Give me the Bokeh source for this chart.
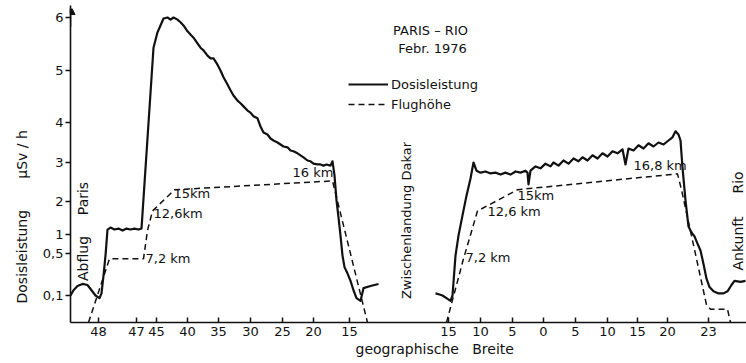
import numpy as np
from bokeh.plotting import figure
from bokeh.models import (Range1d, FixedTicker, Label, Legend, LegendItem,
                          Arrow, NormalHead, Title)
from bokeh.embed import file_html
from bokeh.resources import INLINE

# ---- non-linear dose scale of the original figure (value -> scale position)
Y_TICK_VALUES = [0.1, 0.5, 1, 2, 3, 4, 5, 6]
Y_TICK_LABELS = ["0,1", "0,5", "1", "2", "3", "4", "5", "6"]
Y_SCALE_POS = [27, 69, 88, 121, 160, 200, 252, 305]

# ---- flight track axis (geographic latitude labels along the route)
X_TICK_POS = [98, 136, 156, 187, 218, 250, 282, 313, 349,
              448, 480, 512, 543, 575, 607, 637, 667, 708]
X_TICK_LABELS = ["48", "47", "45", "40", "35", "30", "25", "20", "15",
                 "15", "10", "5", "0", "5", "10", "15", "20", "23"]

# ---- Dosisleistung (µSv/h), leg Paris -> Dakar
dose1_x = [70, 73, 77, 82, 87, 91, 95, 99, 101, 103, 105, 107, 110, 114, 118,
           122, 126, 130, 134, 138, 141, 153, 157, 160, 163, 167, 170, 173,
           177, 180, 183, 187, 190, 193, 197, 200, 203, 207, 210, 213, 217,
           220, 223, 227, 230, 233, 237, 240, 243, 247, 250, 253, 257, 260,
           263, 267, 270, 273, 277, 280, 283, 287, 290, 293, 297, 300, 303,
           307, 310, 313, 317, 320, 323, 326, 330, 332, 334, 336, 338, 340,
           342, 344, 347, 350, 353, 356, 360, 363, 370, 378]
dose1_v = [0.10, 0.15, 0.19, 0.21, 0.20, 0.15, 0.10, 0.09, 0.12, 0.29, 0.48,
           1.15, 1.21, 1.15, 1.18, 1.12, 1.18, 1.15, 1.18, 1.15, 1.18, 5.43,
           5.72, 5.85, 5.98, 6.0, 5.96, 6.0, 5.96, 5.91, 5.85, 5.74, 5.68,
           5.62, 5.51, 5.43, 5.38, 5.28, 5.23, 5.23, 5.11, 5.0, 4.87, 4.73,
           4.62, 4.52, 4.42, 4.37, 4.31, 4.23, 4.19, 4.12, 4.08, 3.9, 3.75,
           3.7, 3.6, 3.55, 3.5, 3.45, 3.4, 3.38, 3.3, 3.28, 3.23, 3.18, 3.13,
           3.05, 3.03, 2.97, 2.95, 2.95, 2.92, 2.95, 2.92, 3.03, 2.67, 2.03,
           1.52, 0.97, 0.48, 0.37, 0.31, 0.24, 0.15, 0.09, 0.08, 0.17, 0.19,
           0.21]

# ---- Dosisleistung (µSv/h), leg Dakar -> Rio
dose2_x = [435, 439, 442, 446, 450, 452, 455, 458, 462, 466, 470, 473, 476,
           480, 485, 490, 495, 500, 505, 510, 515, 520, 525, 527, 528, 530,
           535, 540, 545, 550, 553, 558, 563, 568, 573, 578, 582, 587, 592,
           597, 602, 607, 612, 617, 622, 625, 628, 633, 638, 643, 648, 653,
           658, 663, 668, 672, 675, 678, 680, 682, 685, 688, 691, 694, 697,
           700, 703, 706, 709, 713, 718, 723, 727, 731, 734, 740, 745]
dose2_v = [0.12, 0.11, 0.10, 0.09, 0.08, 0.10, 0.48, 0.97, 1.58, 2.15, 2.59,
           3.0, 2.79, 2.74, 2.77, 2.72, 2.74, 2.69, 2.74, 2.69, 2.77, 2.74,
           2.79, 2.74, 2.44, 2.79, 2.9, 2.85, 2.97, 2.9, 3.0, 2.92, 3.05,
           2.97, 3.1, 3.03, 3.13, 3.05, 3.18, 3.1, 3.23, 3.15, 3.28, 3.23,
           3.33, 2.95, 3.35, 3.3, 3.43, 3.35, 3.48, 3.4, 3.5, 3.45, 3.55,
           3.63, 3.78, 3.7, 3.55, 2.87, 2.03, 1.24, 1.06, 0.95, 0.76, 0.58,
           0.40, 0.26, 0.18, 0.14, 0.12, 0.12, 0.14, 0.20, 0.24, 0.23, 0.24]

# ---- Flughöhe (km)
alt1_x = [88, 109, 143, 147, 152, 174, 332, 367]
alt1_km = [0, 7.2, 7.2, 10.4, 12.6, 15.0, 16.0, 0]
alt2_x = [446, 463, 477, 517, 677, 681, 706, 710, 727, 730]
alt2_km = [0, 7.2, 12.6, 15.0, 16.8, 15.0, 2.0, 1.5, 1.5, 0]

ALT_UNITS_PER_KM = 8.85
Y_TOP = 314


def gauge(v):
    return np.interp(np.asarray(v, dtype=float), [0] + Y_TICK_VALUES,
                     [0] + Y_SCALE_POS)


FONT = "DejaVu Sans"
INK = "#111111"
NB = "\u00a0"

p = figure(width=746, height=363, title=None,
           x_range=Range1d(70, 746), y_range=Range1d(0, Y_TOP),
           output_backend="svg", toolbar_location=None,
           min_border_left=70, min_border_right=0, min_border_top=8,
           min_border_bottom=41)
p.extra_y_ranges = {"alt": Range1d(0, Y_TOP / ALT_UNITS_PER_KM)}
p.outline_line_color = None
p.xgrid.visible = False
p.ygrid.visible = False
p.background_fill_color = "white"
p.border_fill_color = "white"

# axes
yax = p.yaxis[0]
yax.ticker = FixedTicker(ticks=Y_SCALE_POS)
yax.major_label_overrides = {t: l for t, l in zip(Y_SCALE_POS, Y_TICK_LABELS)}
yax.minor_tick_line_color = None
yax.major_tick_in = 0
yax.major_tick_out = 5
yax.major_label_standoff = 2
yax.axis_line_width = 1.6
yax.axis_line_color = INK
yax.major_tick_line_width = 1.5
yax.major_tick_line_color = INK
yax.major_label_text_font = FONT
yax.major_label_text_font_size = "13px"
yax.major_label_text_color = INK

xax = p.xaxis[0]
xax.ticker = FixedTicker(ticks=X_TICK_POS)
xax.major_label_overrides = {t: l for t, l in zip(X_TICK_POS, X_TICK_LABELS)}
xax.minor_tick_line_color = None
xax.major_tick_in = 5
xax.major_tick_out = 0
xax.major_label_standoff = 4
xax.axis_line_width = 1.6
xax.axis_line_color = INK
xax.major_tick_line_width = 1.5
xax.major_tick_line_color = INK
xax.major_label_text_font = FONT
xax.major_label_text_font_size = "13px"
xax.major_label_text_color = INK

# axis titles as side titles (placed with offsets along the axes)
p.add_layout(Title(text="Dosisleistung" + NB * 7 + "µSv" + NB + "/" + NB + "h",
                   align="left", offset=19, standoff=20,
                   text_font=FONT, text_font_size="14px",
                   text_font_style="normal", text_color=INK), "left")
p.add_layout(Title(text="geographische" + NB * 3 + "Breite",
                   align="left", offset=285, standoff=0,
                   text_font=FONT, text_font_size="14px",
                   text_font_style="normal", text_color=INK), "below")

p.add_layout(Arrow(end=NormalHead(size=9, fill_color=INK, line_color=INK),
                   x_start=70, y_start=296, x_end=70, y_end=Y_TOP + 3,
                   line_width=1.6, line_color=INK))

# data
r_d1 = p.line(dose1_x, gauge(dose1_v), line_width=2.2, line_color=INK,
              line_join="round")
p.line(dose2_x, gauge(dose2_v), line_width=2.2, line_color=INK,
       line_join="round")
r_a1 = p.line(alt1_x, alt1_km, y_range_name="alt", line_width=1.5,
              line_color=INK, line_dash="6 4")
p.line(alt2_x, alt2_km, y_range_name="alt", line_width=1.5,
       line_color=INK, line_dash="6 4")

legend = Legend(items=[LegendItem(label="Dosisleistung", renderers=[r_d1]),
                       LegendItem(label="Flughöhe", renderers=[r_a1])],
                location=(278, 209), border_line_color=None,
                background_fill_alpha=0, padding=0, margin=0, spacing=2,
                glyph_width=40, glyph_height=18, label_height=18,
                label_standoff=3, label_text_font=FONT,
                label_text_font_size="13px", label_text_color=INK)
p.add_layout(legend, "center")


def txt(x, y, s, size="13px", angle=0.0, align="center"):
    p.add_layout(Label(x=x, y=y, text=s, angle=angle, text_align=align,
                       text_baseline="middle", text_font=FONT,
                       text_font_size=size, text_color=INK))


# titles
txt(430, 292, "PARIS – RIO")
txt(432, 274, "Febr. 1976")

# altitude labels
for s, x, y in [("7,2 km", 145, 64), ("12,6km", 153, 109), ("15km", 173, 129),
                ("16 km", 292, 150), ("7,2 km", 465, 65), ("12,6 km", 487, 111),
                ("15km", 517, 127), ("16,8 km", 633, 157)]:
    txt(x, y, s, align="left")

# vertical annotations
V = np.pi / 2
txt(82, 64, "Abflug", size="14px", angle=V)
txt(82, 124, "Paris", size="14px", angle=V)
txt(406, 102, "Zwischenlandung Dakar", size="13px", angle=V)
txt(737, 79, "Ankunft", size="14px", angle=V)
txt(737, 140, "Rio", size="14px", angle=V)

open("out.html", "w").write(file_html(p, INLINE))
